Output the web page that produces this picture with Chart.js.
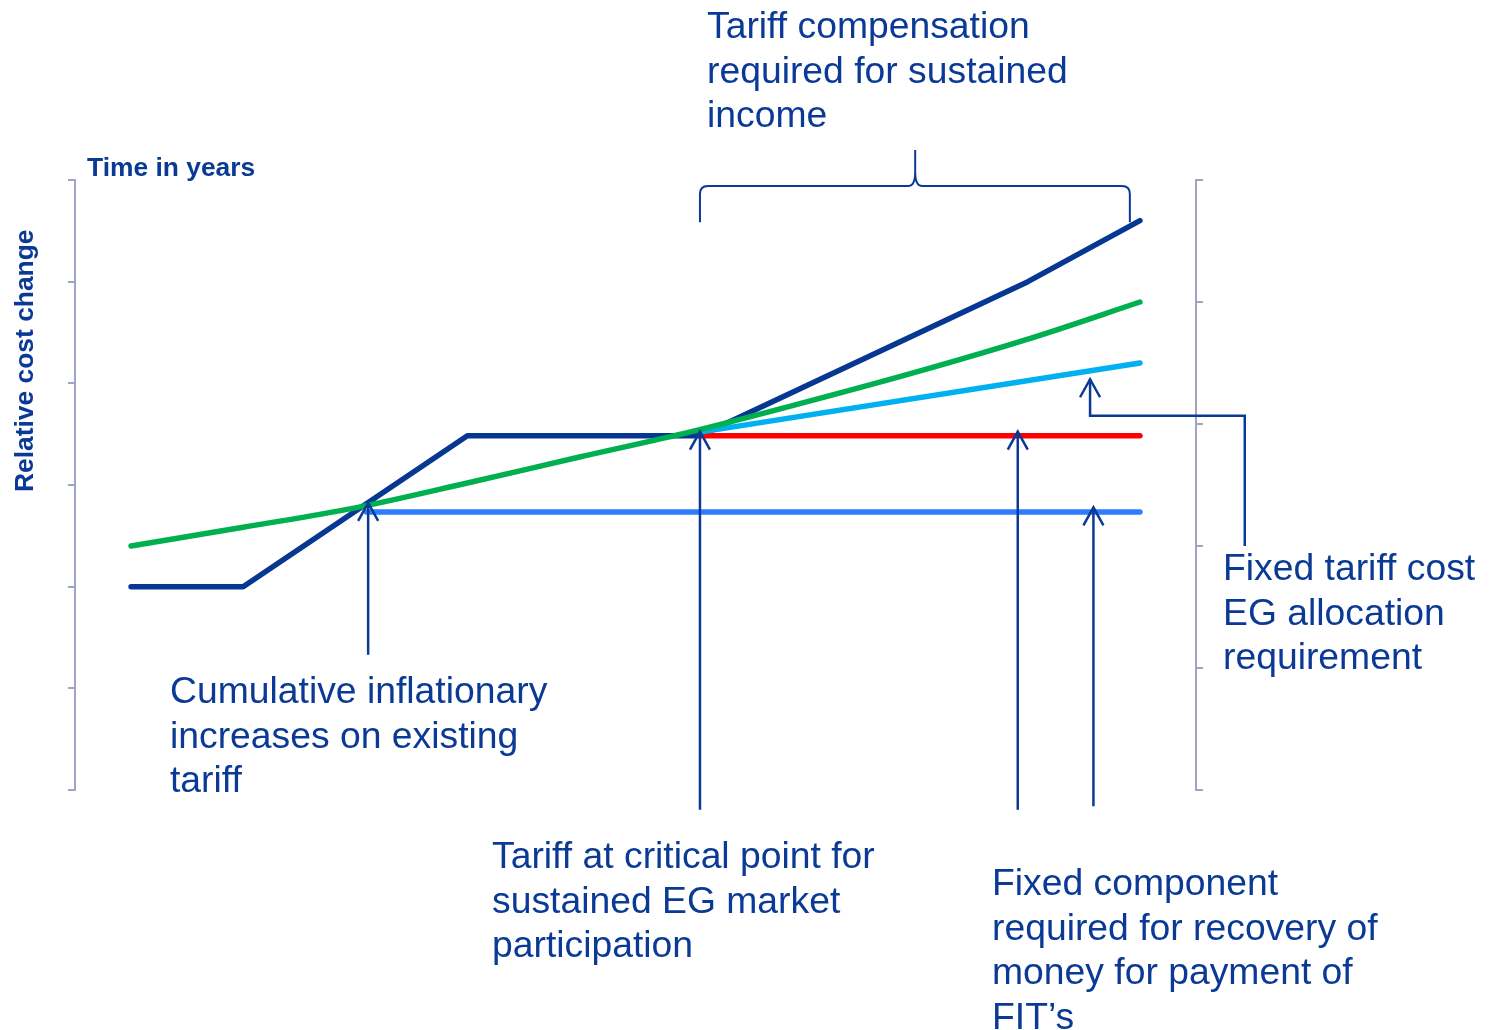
<!DOCTYPE html>
<html>
<head>
<meta charset="utf-8">
<title>Relative cost change over time</title>
<script src="https://cdn.jsdelivr.net/npm/chart.js@4.4.1/dist/chart.umd.min.js"></script>
<style>
  html, body { margin: 0; padding: 0; background: #fff; }
  #wrap { position: relative; width: 1493px; height: 1030px; overflow: hidden; }
  #chart { position: absolute; left: 0; top: 0; }
  .note {
    position: absolute;
    font-family: "Liberation Sans", Arial, sans-serif;
    font-size: 37.3px;
    line-height: 44.5px;
    color: #0a3a96;
    white-space: nowrap;
  }
  .axis-label {
    position: absolute;
    font-family: "Liberation Sans", Arial, sans-serif;
    font-weight: bold;
    font-size: 26.4px;
    line-height: 30px;
    color: #0a3a96;
    white-space: nowrap;
  }
</style>
</head>
<body>
<div id="wrap">
  <canvas id="chart" width="1493" height="1030"></canvas>
  <div class="axis-label" style="left:87px; top:152px;">Time in years</div>
  <div class="axis-label" style="left:0; top:0; transform-origin:0 0; transform:translate(9px, 492px) rotate(-90deg);">Relative cost change</div>
  <div class="note" style="left:707px; top:3px;">Tariff compensation<br>required for sustained<br>income</div>
  <div class="note" style="left:170px; top:668px;">Cumulative inflationary<br>increases on existing<br>tariff</div>
  <div class="note" style="left:492px; top:833px;">Tariff at critical point for<br>sustained EG market<br>participation</div>
  <div class="note" style="left:992px; top:860px;">Fixed component<br>required for recovery of<br>money for payment of<br>FIT’s</div>
  <div class="note" style="left:1223px; top:545px;">Fixed tariff cost<br>EG allocation<br>requirement</div>
</div>

<script>
// years on x, relative cost on y (axes carry no numbers in the original)
const navyX = [1, 3, 7, 11.15, 17, 19];
const navyY = [4, 4, 6.97, 6.97, 10, 11.2];

const greenX = [1, 3, 5, 7, 9, 11, 13, 15, 17, 19];
const greenY = [4.8, 5.17, 5.55, 6.04, 6.55, 7.05, 7.62, 8.22, 8.87, 9.6];

const cyanX = [11.15, 19];
const cyanY = [7.04, 8.4];

const redX = [11.15, 19];
const redY = [6.97, 6.97];

const blueX = [5.2, 19];
const blueY = [5.47, 5.47];

// arrows pointing up at the lines
const arrowX = [5.23, 11.15, 16.82, 18.17];
const arrowTip = [5.65, 7.05, 7.05, 5.56];
const arrowBase = [2.66, -0.39, -0.39, -0.32];

// elbow arrow for "Fixed tariff cost"
const elbowX = [18.11, 20.87];
const elbowY = [8.08, 7.36, 4.8];

// brace over the gap between lines
const braceX = [11.15, 14.99, 18.82];
const braceY = [11.17, 11.88, 12.59];

const noteColor = "#0a3a96";
const axisColor = "#a0a5c8";

const pts = (xs, ys) => xs.map((x, i) => ({ x: x, y: ys[i] }));

function head(ctx, X, Y) {
  ctx.beginPath();
  ctx.moveTo(X - 10, Y + 18);
  ctx.lineTo(X, Y);
  ctx.lineTo(X + 10, Y + 18);
  ctx.stroke();
}

const annotations = {
  id: "annotations",
  afterDraw(chart) {
    const ctx = chart.ctx;
    const px = v => chart.scales.x.getPixelForValue(v);
    const py = v => chart.scales.y.getPixelForValue(v);
    ctx.save();
    ctx.strokeStyle = noteColor;
    ctx.lineWidth = 2.5;
    ctx.lineJoin = "miter";

    arrowX.forEach((ax, i) => {
      const X = px(ax), tip = py(arrowTip[i]);
      ctx.beginPath();
      ctx.moveTo(X, py(arrowBase[i]));
      ctx.lineTo(X, tip);
      ctx.stroke();
      head(ctx, X, tip);
    });

    // elbow
    const ex = px(elbowX[0]), tipY = py(elbowY[0]);
    ctx.beginPath();
    ctx.moveTo(ex, tipY);
    ctx.lineTo(ex, py(elbowY[1]));
    ctx.lineTo(px(elbowX[1]), py(elbowY[1]));
    ctx.lineTo(px(elbowX[1]), py(elbowY[2]));
    ctx.stroke();
    head(ctx, ex, tipY);

    // brace
    const L = px(braceX[0]), M = px(braceX[1]), R = px(braceX[2]);
    const B = py(braceY[0]), H = py(braceY[1]), P = py(braceY[2]);
    const r = 8;
    ctx.lineWidth = 2;
    ctx.beginPath();
    ctx.moveTo(L, B);
    ctx.lineTo(L, H + r);
    ctx.quadraticCurveTo(L, H, L + r, H);
    ctx.lineTo(M - 7, H);
    ctx.quadraticCurveTo(M, H, M, H - 14);
    ctx.lineTo(M, P);
    ctx.moveTo(M, H - 14);
    ctx.quadraticCurveTo(M, H, M + 7, H);
    ctx.lineTo(R - r, H);
    ctx.quadraticCurveTo(R, H, R, H + r);
    ctx.lineTo(R, B);
    ctx.stroke();

    ctx.restore();
  }
};

function line(data, color, order) {
  return {
    data: data,
    borderColor: color,
    borderWidth: 5.5,
    borderCapStyle: "round",
    borderJoinStyle: "round",
    pointRadius: 0,
    fill: false,
    order: order
  };
}

const green = line(pts(greenX, greenY), "#00b050", 0);
green.cubicInterpolationMode = "monotone";

const axisStyle = {
  grid: { drawOnChartArea: false, tickLength: 7, color: axisColor, lineWidth: 2 },
  border: { display: true, color: axisColor, width: 2 }
};

new Chart(document.getElementById("chart"), {
  type: "line",
  data: {
    datasets: [
      green,
      line(pts(cyanX, cyanY), "#00b0f0", 1),
      line(pts(redX, redY), "#ff0000", 2),
      line(pts(navyX, navyY), "#063792", 3),
      line(pts(blueX, blueY), "#2e7dff", 4)
    ]
  },
  options: {
    responsive: false,
    animation: false,
    layout: { padding: { left: 68, right: 290, top: 180, bottom: 240 } },
    plugins: { legend: { display: false }, tooltip: { enabled: false } },
    scales: {
      x: { type: "linear", min: 0, max: 20, display: false },
      y: Object.assign({ type: "linear", position: "left", min: 0, max: 12, ticks: { stepSize: 2, display: false } }, axisStyle),
      y2: Object.assign({ type: "linear", position: "right", min: 0, max: 5, ticks: { stepSize: 1, display: false } }, axisStyle)
    }
  },
  plugins: [annotations]
});
</script>
</body>
</html>
